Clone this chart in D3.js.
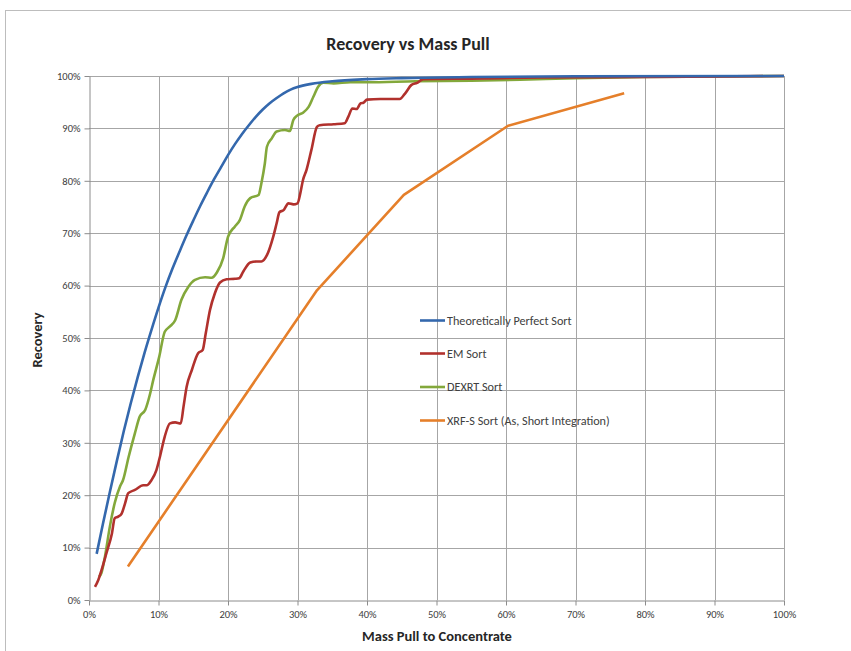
<!DOCTYPE html>
<html>
<head>
<meta charset="utf-8">
<script src="https://cdn.jsdelivr.net/npm/d3@7"></script>
<style>
body{margin:0;background:#fff;}
svg{display:block;}
text{font-family:Carlito,"Liberation Sans Narrow","DejaVu Sans Condensed",Lato,sans-serif;}
</style>
</head>
<body>
<svg id="chart" width="851" height="651"></svg>
<script>
// ---- data (mass pull %, recovery %) ----
const seriesNames = ["Theoretically Perfect Sort","EM Sort","DEXRT Sort","XRF-S Sort (As, Short Integration)"];
const seriesColors = ["#3468ad","#b1312d","#83a83b","#e57f2a"];

const perfectX = [1.1,2,3,4,5,6,7,8,9,10,11,12,13,14,15,16,17,18,19,20,21,22,23,24,25,26,27,28,29,30,32,35,40,45,55,70,100];
const perfectY = [8.8,14.5,20.6,26.5,32.2,37.5,42.5,47.2,51.6,55.8,59.7,63.2,66.4,69.5,72.4,75.2,77.8,80.3,82.6,84.9,87,88.9,90.6,92.2,93.6,94.8,95.8,96.7,97.4,97.9,98.5,99,99.4,99.6,99.8,99.95,100];

const emX = [0.86,1.34,1.8,2.5,3.3,3.7,4.2,4.7,5.2,5.65,6.6,7.8,8.3,9,9.7,10.2,10.9,11.65,12.4,13.2,13.6,14.05,14.8,15.7,16.35,16.8,17.4,18.1,18.85,19.8,21,21.6,22.2,23.2,24.1,24.8,25.6,26.5,27,27.4,28,28.7,29.4,30,30.4,30.8,31.3,32,32.8,33.2,35.2,36.8,37.3,37.9,38.5,39.1,39.5,40,41.9,44.7,45.5,46.4,47.2,48.1,55,65,80,100];
const emY = [2.5,3.8,5.7,8.9,12.7,15.6,15.9,16.5,18.5,20.4,21,21.9,21.9,22.9,24.8,27.3,31.2,33.7,33.9,33.7,36.9,40.7,43.9,47.1,47.7,50.9,55.3,58.5,60.6,61.2,61.3,61.4,62.7,64.4,64.6,64.6,65.8,69.3,71.9,74,74.4,75.7,75.5,75.7,77.6,80.2,82.1,85.9,90.3,90.6,90.8,91,92.2,93.8,93.7,94.8,94.9,95.5,95.6,95.6,96.7,98.3,98.7,99.4,99.5,99.7,99.8,100];

const dexrtX = [1.44,1.8,2.3,3.0,3.7,4.5,4.9,5.7,6.6,7.3,8.1,8.8,9.25,10.1,10.9,11.65,12.4,13.3,14.3,15.25,16.7,17.65,18.4,19.3,20,21,21.7,22.4,23.2,24.4,24.8,25.3,25.6,26.3,27,28.2,28.9,29.4,29.9,30.8,31.6,32.3,33,33.7,35.2,37.6,40,47,55,62,70,80,90,100];
const dexrtY = [4.4,5.2,8.3,14,18.5,21.8,22.9,27.3,31.8,35,36.3,39.4,42,46.4,51.2,52.2,53.4,57.3,59.8,61.1,61.6,61.5,62.5,65.2,69.3,71.3,72.5,75.1,76.7,77.3,79.5,83.3,86.5,88.1,89.4,89.7,89.5,91.6,92.4,93,94.1,96.1,98,98.7,98.6,98.8,98.8,99,99.1,99.3,99.6,99.8,99.9,100];

const xrfX = [5.6,32.8,45.3,60.3,77];
const xrfY = [6.4,59.1,77.3,90.5,96.7];

const xTicks = [0,10,20,30,40,50,60,70,80,90,100];
const yTicks = [0,10,20,30,40,50,60,70,80,90,100];

const title = "Recovery vs Mass Pull";
const xTitle = "Mass Pull to Concentrate";
const yTitle = "Recovery";

// ---- drawing ----
const svg = d3.select("#chart");
const mLeft = 89, mRight = 784, mTop = 76, mBottom = 600;
const x = d3.scaleLinear().domain([0,100]).range([mLeft,mRight]);
const y = d3.scaleLinear().domain([0,100]).range([mBottom,mTop]);

// outer chart border
svg.append("rect").attr("x",5.5).attr("y",10.5).attr("width",860).attr("height",660)
  .attr("fill","none").attr("stroke","#bdbdbd").attr("stroke-width",1);

// gridlines
const grid = svg.append("g");
grid.selectAll(".gx").data(xTicks.filter(d=>d>0)).enter().append("line")
  .attr("x1",d=>Math.round(x(d))+0.5).attr("x2",d=>Math.round(x(d))+0.5)
  .attr("y1",mTop).attr("y2",mBottom).attr("stroke","#a6a6a6").attr("stroke-width",1);
grid.selectAll(".gy").data(yTicks.filter(d=>d>0)).enter().append("line")
  .attr("y1",d=>Math.round(y(d))+0.5).attr("y2",d=>Math.round(y(d))+0.5)
  .attr("x1",mLeft).attr("x2",mRight).attr("stroke","#a6a6a6").attr("stroke-width",1);

// axes
const fmt = d=>d+"%";
const xAxis = svg.append("g").attr("transform",`translate(0,${mBottom+0.5})`)
  .call(d3.axisBottom(x).tickValues(xTicks).tickFormat(fmt).tickSize(5).tickSizeOuter(0));
const yAxis = svg.append("g").attr("transform",`translate(${mLeft+0.5},0)`)
  .call(d3.axisLeft(y).tickValues(yTicks).tickFormat(fmt).tickSize(5).tickSizeOuter(0));
[xAxis,yAxis].forEach(a=>{
  a.selectAll("path,line").attr("stroke","#8c8c8c");
  a.selectAll("text").attr("fill","#404040").style("font-size","10.5px")
   .style("font-family",'Carlito,"Liberation Sans Narrow","DejaVu Sans Condensed",Lato,sans-serif');
});
xAxis.selectAll("text").attr("dy","0.9em").attr("y",8);
yAxis.selectAll("text").attr("x",-9);

// lines
const smooth = d3.line().x(d=>x(d[0])).y(d=>y(d[1])).curve(d3.curveMonotoneX);
const straight = d3.line().x(d=>x(d[0])).y(d=>y(d[1]));
const series = [
  {pts:d3.zip(perfectX,perfectY), gen:smooth, c:seriesColors[0]},
  {pts:d3.zip(emX,emY), gen:smooth, c:seriesColors[1]},
  {pts:d3.zip(dexrtX,dexrtY), gen:smooth, c:seriesColors[2]},
  {pts:d3.zip(xrfX,xrfY), gen:straight, c:seriesColors[3]}
];
const order = [3,2,1,0];
order.forEach(i=>{
  svg.append("path").attr("d",series[i].gen(series[i].pts))
    .attr("fill","none").attr("stroke",series[i].c).attr("stroke-width",2.6)
    .attr("stroke-linejoin","round").attr("stroke-linecap","butt");
});

// legend
const legY = [320.5,353.5,387,420.5];
const leg = svg.append("g");
seriesNames.forEach((n,i)=>{
  leg.append("line").attr("x1",420).attr("x2",445).attr("y1",legY[i]).attr("y2",legY[i])
    .attr("stroke",seriesColors[i]).attr("stroke-width",2.6);
  leg.append("text").attr("x",447).attr("y",legY[i]).attr("dy","0.35em")
    .attr("fill","#404040").style("font-size","12.2px").text(n);
});

// titles
svg.append("text").attr("x",408).attr("y",50).attr("text-anchor","middle")
  .style("font-size","18px").style("font-weight","bold").attr("fill","#262626").text(title);
svg.append("text").attr("x",437).attr("y",641).attr("text-anchor","middle")
  .style("font-size","14.5px").style("font-weight","bold").attr("fill","#262626").text(xTitle);
svg.append("text").attr("transform","translate(42,340) rotate(-90)").attr("text-anchor","middle")
  .style("font-size","14.5px").style("font-weight","bold").attr("fill","#262626").text(yTitle);
</script>
</body>
</html>
